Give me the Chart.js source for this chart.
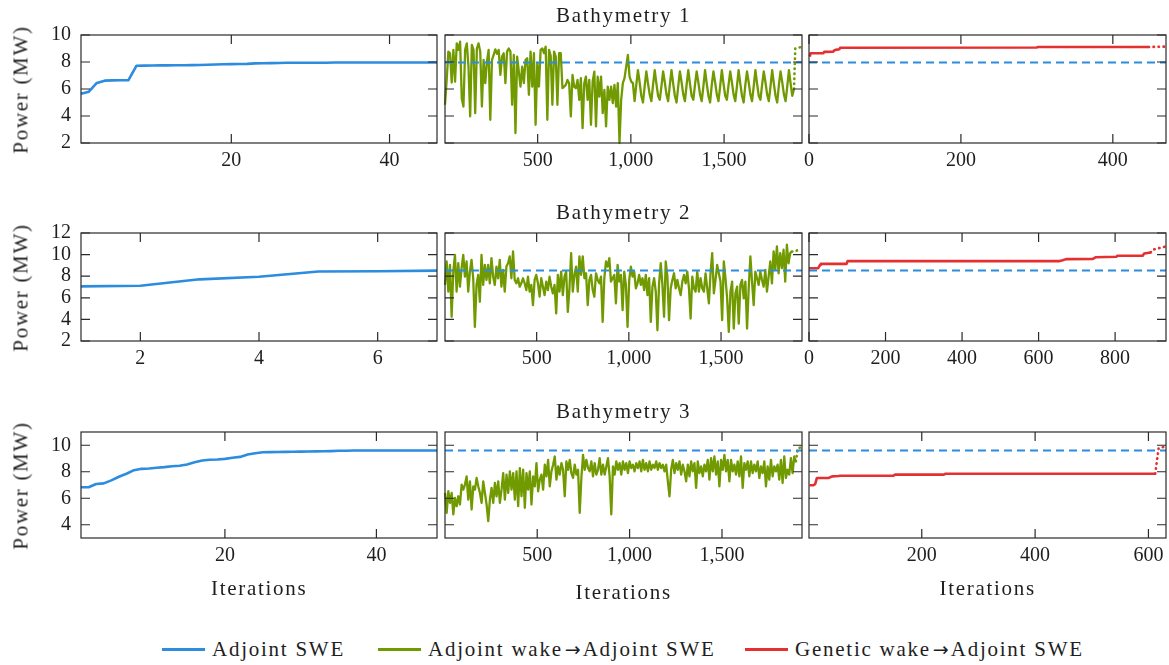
<!DOCTYPE html>
<html>
<head>
<meta charset="utf-8">
<script src="https://cdn.jsdelivr.net/npm/chart.js@4.4.1/dist/chart.umd.min.js"></script>
<style>
  body { margin: 0; background: #fff; width: 1169px; height: 665px; position: relative; overflow: hidden;
         font-family: "Liberation Serif", serif; color: #1e1e1e; }
  canvas { position: absolute; }
  .txt { position: absolute; white-space: nowrap; font-size: 21px; line-height: 21px; letter-spacing: 1.7px; }
  .leg { letter-spacing: 1.75px; }
  .arr { font-family: "DejaVu Sans", sans-serif; font-size: 19px; letter-spacing: 0; padding: 0 2px; }
  .ylab { width: 200px; text-align: center; transform: rotate(-90deg); }
  .legline { position: absolute; height: 3px; width: 43px; }
</style>
</head>
<body>
<script>
// ---- data ----
const seriesNames = ["Adjoint SWE", "Adjoint wake\u2192Adjoint SWE", "Genetic wake\u2192Adjoint SWE"];
const rowTitles = ["Bathymetry 1", "Bathymetry 2", "Bathymetry 3"];

// Adjoint SWE (x = 1, 2, 3, ...)
const blue1 = [5.65, 5.8, 6.45, 6.62, 6.64, 6.65, 6.66, 7.72, 7.73, 7.74,
               7.75, 7.75, 7.76, 7.76, 7.77, 7.78, 7.8, 7.82, 7.83, 7.84,
               7.85, 7.86, 7.9, 7.91, 7.92, 7.93, 7.94, 7.95, 7.95, 7.95,
               7.95, 7.95, 7.96, 7.96, 7.96, 7.96, 7.96, 7.96, 7.96, 7.96,
               7.96, 7.96, 7.96, 7.96, 7.96, 7.96];
const blue2 = [7.06, 7.12, 7.71, 7.95, 8.43, 8.46, 8.52];
const blue3 = [6.83, 6.83, 7.08, 7.12, 7.35, 7.62, 7.85, 8.12, 8.22, 8.25,
               8.3, 8.35, 8.42, 8.45, 8.55, 8.72, 8.85, 8.9, 8.92, 8.97,
               9.05, 9.12, 9.3, 9.4, 9.47, 9.48, 9.49, 9.5, 9.51, 9.52,
               9.53, 9.54, 9.55, 9.56, 9.58, 9.59, 9.6, 9.6, 9.6, 9.6,
               9.6, 9.6, 9.6, 9.6, 9.6, 9.6, 9.6, 9.6];

// Adjoint wake -> Adjoint SWE, sampled every 9 iterations
const greenStart = [3, 3, 1];
const greenStep = 9;
const green1 = [4.83, 6.67, 8.77, 8.65, 6.48, 8.9, 6.55, 9.38, 8.9, 9.5,
                5.3, 4.7, 8.9, 9.38, 7.66, 3.97, 9.26, 8.9, 4.21, 9.0,
                9.38, 8.77, 4.7, 8.15, 6.43, 8.03, 8.9, 3.72, 8.15, 8.52,
                8.94, 8.6, 8.9, 7.04, 8.4, 8.65, 6.43, 8.77, 9.0, 8.77,
                4.83, 8.52, 2.73, 8.4, 7.29, 6.18, 7.66, 6.43, 8.15, 8.28,
                5.57, 8.77, 6.18, 8.65, 3.35, 7.9, 6.18, 8.9, 9.0, 8.65,
                9.14, 3.72, 8.9, 8.45, 4.83, 8.77, 8.4, 4.83, 8.65, 8.65,
                6.06, 6.18, 6.3, 6.67, 6.43, 3.97, 7.04, 6.18, 6.06, 6.67,
                5.2, 6.8, 3.1, 6.43, 6.92, 5.2, 6.67, 3.35, 6.55, 7.29,
                3.23, 6.92, 5.44, 6.92, 4.21, 5.94, 3.23, 6.18, 5.2, 6.18,
                4.95, 6.3, 4.7, 6.43, 2.0, 5.2, 6.43, 6.8, 7.66, 8.52,
                6.92, 6.55, 6.43,
                5.1, 6.3, 7.4, 6.5, 5.5, 5.0, 6.2, 7.3, 6.4, 5.6,
                5.1, 6.3, 7.4, 6.4, 5.5, 5.2, 6.2, 7.3, 6.5, 5.6,
                5.1, 6.3, 7.4, 6.4, 5.5, 5.0, 6.2, 7.3, 6.5, 5.6,
                5.1, 6.3, 7.4, 6.4, 5.5, 5.2, 6.3, 7.3, 6.5, 5.6,
                5.1, 6.2, 7.4, 6.4, 5.5, 5.0, 6.3, 7.3, 6.5, 5.6,
                5.1, 6.2, 7.4, 6.4, 5.5, 5.2, 6.3, 7.3, 6.5, 5.6,
                5.1, 6.2, 7.4, 6.4, 5.5, 5.0, 6.3, 7.3, 6.5, 5.6,
                5.1, 6.2, 7.4, 6.4, 5.5, 5.2, 6.3, 7.3, 6.5, 5.6,
                5.1, 6.2, 7.4, 6.4, 5.5, 5.0, 6.3, 7.3, 6.5, 5.6,
                5.1, 6.2, 7.4, 6.4, 5.5, 6.0];
const green2 = [7.19, 9.36, 6.57, 9.05, 4.24, 8.43, 9.98, 6.57, 9.2, 7.03,
                8.74, 9.98, 7.96, 9.36, 6.57, 8.43, 9.52, 7.81, 3.3, 7.19,
                8.12, 5.63, 9.98, 7.19, 9.05, 7.65, 9.05, 7.34, 9.67, 7.96,
                7.19, 8.89, 7.81, 9.52, 7.03, 8.58, 6.57, 8.89, 9.2, 9.83,
                7.81, 10.29, 7.65, 7.34, 7.81, 7.03, 7.34, 7.81, 7.34, 6.72,
                7.96, 6.57, 7.19, 5.32, 7.65, 8.12, 7.34, 6.1, 7.81, 7.03,
                6.25, 7.5, 6.72, 7.96, 7.03, 6.41, 7.19, 4.55, 8.12, 6.57,
                8.43, 6.25, 7.96, 8.43, 4.7, 6.88, 10.14, 6.57, 8.12, 8.89,
                6.57, 9.83, 8.12, 9.83, 7.81, 8.27, 5.32, 7.65, 8.12, 6.72,
                6.1, 8.27, 7.65, 7.34, 7.96, 3.77, 7.81, 9.36, 8.89, 9.67,
                7.5, 7.81, 8.12, 5.48, 9.05, 7.5, 8.12, 4.86, 8.43, 7.19,
                3.3, 7.65, 8.89, 7.96, 8.43, 6.88, 7.34, 8.12, 7.19, 7.81,
                6.72, 8.12, 6.25, 7.81, 3.77, 7.03, 7.81, 6.57, 2.99, 7.34,
                9.2, 7.19, 4.24, 9.36, 7.96, 3.93, 6.88, 7.65, 8.27, 6.88,
                7.65, 6.88, 6.25, 7.5, 8.12, 7.34, 8.43, 6.88, 4.08, 7.96,
                6.88, 6.57, 8.43, 6.57, 7.81, 6.88, 6.57, 8.27, 6.88, 5.48,
                8.27, 10.14, 6.41, 7.65, 9.05, 8.27, 7.5, 3.93, 9.36, 7.81,
                5.94, 2.84, 6.57, 7.5, 3.15, 6.41, 7.03, 3.61, 7.19, 7.65,
                5.94, 7.5, 3.15, 6.88, 9.83, 7.5, 5.32, 8.43, 7.81, 7.19,
                8.43, 7.65, 7.03, 8.58, 6.57, 7.96, 9.36, 7.34, 10.29, 8.58,
                10.76, 8.27, 10.14, 8.74, 10.45, 7.5, 10.91, 9.2, 10.14, 10.29];
const green3 = [6.4, 4.9, 6.53, 5.65, 6.4, 4.78, 6.03, 5.4, 6.15, 5.53,
                7.03, 6.65, 7.03, 7.65, 5.9, 7.28, 5.15, 6.9, 6.65, 7.53,
                6.9, 6.4, 5.65, 7.28, 6.4, 5.53, 4.28, 5.9, 6.78, 5.65,
                7.15, 6.15, 7.28, 5.65, 6.65, 7.9, 5.9, 7.78, 6.4, 8.03,
                6.65, 7.9, 5.9, 8.03, 5.4, 8.28, 6.15, 8.15, 5.28, 7.9,
                6.65, 8.03, 5.53, 7.65, 6.9, 8.65, 6.53, 7.4, 7.78, 6.65,
                8.53, 7.65, 8.9, 6.9, 8.03, 8.53, 9.15, 7.4, 8.4, 7.78,
                8.65, 8.15, 6.15, 8.78, 8.15, 8.9, 7.9, 7.53, 8.53, 7.78,
                8.15, 4.9, 7.53, 9.28, 8.15, 8.9, 8.28, 8.03, 8.78, 7.65,
                8.65, 7.78, 8.15, 9.03, 7.78, 8.53, 7.78, 8.4, 9.03, 7.65,
                4.78, 8.4, 7.78, 8.78, 8.15, 8.65, 7.78, 8.78, 8.15, 8.65,
                7.9, 8.78, 8.28, 8.53, 8.03, 8.65, 8.28, 8.78, 8.03, 8.9,
                8.15, 8.65, 8.03, 8.78, 8.15, 8.53, 8.28, 8.78, 8.15, 8.65,
                8.28, 8.53, 8.03, 8.53, 7.28, 6.15, 8.15, 8.9, 7.9, 8.65,
                8.15, 8.78, 7.78, 8.53, 8.03, 7.28, 8.53, 7.65, 8.78, 8.03,
                8.65, 6.78, 8.78, 7.9, 8.4, 7.65, 8.53, 8.03, 8.9, 7.4,
                9.03, 8.03, 9.15, 7.78, 8.78, 6.9, 8.9, 8.15, 9.28, 8.03,
                8.9, 7.28, 8.9, 8.03, 8.53, 7.78, 8.78, 7.65, 9.15, 6.78,
                8.65, 8.15, 8.78, 7.65, 8.78, 7.9, 8.53, 8.03, 8.78, 7.53,
                8.4, 7.9, 8.78, 6.9, 8.4, 7.4, 8.9, 7.65, 8.4, 8.03,
                8.53, 7.4, 8.9, 7.15, 9.15, 7.53, 8.15, 7.78, 9.03, 7.9,
                9.15, 8.78];
// dotted tails after the last green point
const greenTailX = [[1882, 1912], [1905, 1930], [1910, 1928]];
const greenTailY = [[9.0, 9.1], [10.3, 10.6], [9.75, 9.85]];

// Genetic wake -> Adjoint SWE
const redX1 = [1, 2, 19, 20, 32, 33, 35, 40, 41, 300, 301, 447];
const redY1 = [8.4, 8.65, 8.66, 8.75, 8.77, 8.85, 8.9, 8.94, 9.06, 9.07, 9.11, 9.11];
const redX2 = [0, 24, 29, 31, 98, 101, 655, 663, 672, 742, 750, 803, 807, 872, 876, 893];
const redY2 = [8.74, 8.74, 9.05, 9.14, 9.14, 9.4, 9.4, 9.47, 9.58, 9.6, 9.76, 9.8, 9.9, 9.9, 10.1, 10.2];
const redX3 = [2, 9, 12, 15, 36, 39, 42, 53, 56, 150, 153, 239, 242, 612];
const redY3 = [6.98, 6.98, 7.08, 7.53, 7.53, 7.6, 7.65, 7.68, 7.7, 7.7, 7.78, 7.78, 7.85, 7.85];
const redTailX = [[470], [898, 933], [618, 630]];
const redTailY = [[9.14], [10.45, 10.76], [9.78, 9.9]];

// axes
const xRanges = [[[1, 46], [3, 1918], [0, 470]],
                 [[1, 7], [3, 1939], [0, 933]],
                 [[1, 48], [1, 1933], [1, 631]]];
const xTicks = [[[20, 40], [500, 1000, 1500], [0, 200, 400]],
                [[2, 4, 6], [500, 1000, 1500], [0, 200, 400, 600, 800]],
                [[20, 40], [500, 1000, 1500], [200, 400, 600]]];
const yRanges = [[2, 10], [2, 12], [3, 11]];
const yTicks = [[2, 4, 6, 8, 10], [2, 4, 6, 8, 10, 12], [4, 6, 8, 10]];

// ---- style / layout ----
const BLUE = "rgb(44,140,222)";
const GREEN = "rgb(112,154,0)";
const RED = "rgb(228,48,48)";
const colLeft = [81, 445, 809], colRight = [437, 802, 1166];
const rowTop = [35, 233, 432], rowBottom = [143, 341, 538];
const ML = 60, MR = 12, MT = 30, MB = 40, TICK = 9;
const tickFont = { family: "Liberation Serif", size: 20 };

const blues = [blue1, blue2, blue3];
const greens = [green1, green2, green3];
const redXs = [redX1, redX2, redX3], redYs = [redY1, redY2, redY3];

const framePlugin = {
  id: "frame",
  afterDraw(chart) {
    const { ctx, chartArea: a, scales: { x, y } } = chart;
    ctx.save();
    ctx.strokeStyle = "#2a2a2a";
    ctx.lineWidth = 1.2;
    ctx.strokeRect(a.left, a.top, a.right - a.left, a.bottom - a.top);
    ctx.beginPath();
    x.ticks.forEach(t => {
      const px = x.getPixelForValue(t.value);
      ctx.moveTo(px, a.bottom); ctx.lineTo(px, a.bottom - TICK);
      ctx.moveTo(px, a.top); ctx.lineTo(px, a.top + TICK);
    });
    y.ticks.forEach(t => {
      const py = y.getPixelForValue(t.value);
      ctx.moveTo(a.left, py); ctx.lineTo(a.left + TICK, py);
      ctx.moveTo(a.right, py); ctx.lineTo(a.right - TICK, py);
    });
    ctx.stroke();
    ctx.restore();
  }
};

function lineSet(data, color, extra) {
  return Object.assign({
    data: data, borderColor: color, borderWidth: 2.4, pointRadius: 0,
    tension: 0, fill: false, borderJoinStyle: "round", clip: 4
  }, extra || {});
}

function makePanel(r, c) {
  const w = colRight[c] - colLeft[c] + ML + MR;
  const h = rowBottom[r] - rowTop[r] + MT + MB;
  const cv = document.createElement("canvas");
  cv.width = w; cv.height = h;
  cv.style.left = (colLeft[c] - ML) + "px";
  cv.style.top = (rowTop[r] - MT) + "px";
  document.body.appendChild(cv);

  const xr = xRanges[r][c];
  const blueLast = blues[r][blues[r].length - 1];
  const dashed = lineSet([{ x: xr[0], y: blueLast }, { x: xr[1], y: blueLast }], BLUE,
                         { borderWidth: 2, borderDash: [8, 5] });
  const dots = { borderWidth: 2.6, borderDash: [0.5, 4.5], borderCapStyle: "round" };
  let datasets = [];
  if (c === 0) {
    datasets.push(lineSet(blues[r].map((v, i) => ({ x: i + 1, y: v })), BLUE, { borderWidth: 2.6 }));
  } else if (c === 1) {
    const g = greens[r].map((v, i) => ({ x: greenStart[r] + i * greenStep, y: v }));
    const last = g[g.length - 1];
    const tail = [last].concat(greenTailX[r].map((x, i) => ({ x: x, y: greenTailY[r][i] })));
    datasets.push(dashed);
    datasets.push(lineSet(tail, GREEN, dots));
    datasets.push(lineSet(g, GREEN, { borderWidth: 2.3 }));
  } else {
    const red = redXs[r].map((x, i) => ({ x: x, y: redYs[r][i] }));
    const last = red[red.length - 1];
    const tail = [last].concat(redTailX[r].map((x, i) => ({ x: x, y: redTailY[r][i] })));
    datasets.push(dashed);
    datasets.push(lineSet(tail, RED, dots));
    datasets.push(lineSet(red, RED, { borderWidth: 2.6 }));
  }

  new Chart(cv, {
    type: "line",
    data: { datasets: datasets },
    options: {
      responsive: false, animation: false, events: [],
      layout: { padding: { left: 0, right: MR, top: MT, bottom: 0 } },
      plugins: { legend: { display: false }, tooltip: { enabled: false } },
      scales: {
        x: {
          type: "linear", min: xr[0], max: xr[1],
          grid: { display: false, drawTicks: false }, border: { display: false },
          afterBuildTicks: s => { s.ticks = xTicks[r][c].map(v => ({ value: v })); },
          afterFit: s => { s.height = MB; },
          ticks: { font: tickFont, color: "#1e1e1e", padding: 6, maxRotation: 0, autoSkip: false,
                   callback: v => v.toLocaleString("en-US") }
        },
        y: {
          type: "linear", min: yRanges[r][0], max: yRanges[r][1],
          grid: { display: false, drawTicks: false }, border: { display: false },
          afterBuildTicks: s => { s.ticks = yTicks[r].map(v => ({ value: v })); },
          afterFit: s => { s.width = ML; },
          ticks: { display: c === 0, font: tickFont, color: "#1e1e1e", padding: 10, autoSkip: false }
        }
      }
    },
    plugins: [framePlugin]
  });
}

function addText(txt, left, top, cls) {
  const d = document.createElement("div");
  d.className = "txt " + (cls || "");
  const parts = txt.split("\u2192");
  parts.forEach((p, i) => {
    if (i > 0) {
      const a = document.createElement("span");
      a.className = "arr";
      a.textContent = "\u2192";
      d.appendChild(a);
    }
    d.appendChild(document.createTextNode(p));
  });
  d.style.left = left + "px";
  d.style.top = top + "px";
  document.body.appendChild(d);
  return d;
}

for (let r = 0; r < 3; r++) {
  for (let c = 0; c < 3; c++) makePanel(r, c);
  // row title, centred over the middle panel
  const t = addText(rowTitles[r], 0, [4.5, 201.5, 400.5][r]);
  t.style.left = ((colLeft[1] + colRight[1]) / 2 - t.offsetWidth / 2) + "px";
  // y axis label
  const cy = (rowTop[r] + rowBottom[r]) / 2;
  addText("Power (MW)", 21 - 100, cy - 10.5, "ylab");
}
// x axis labels on bottom row
[577.5, 581.5, 577.5].forEach((top, c) => {
  const d = addText("Iterations", 0, top);
  d.style.left = ((colLeft[c] + colRight[c]) / 2 - d.offsetWidth / 2) + "px";
});

// legend
const legColors = [BLUE, GREEN, RED];
const legLeft = [162, 378, 745];
seriesNames.forEach((name, i) => {
  const ln = document.createElement("div");
  ln.className = "legline";
  ln.style.background = legColors[i];
  ln.style.left = legLeft[i] + "px";
  ln.style.top = "648px";
  document.body.appendChild(ln);
  addText(name, legLeft[i] + 50, 639, "leg");
});
</script>
</body>
</html>
